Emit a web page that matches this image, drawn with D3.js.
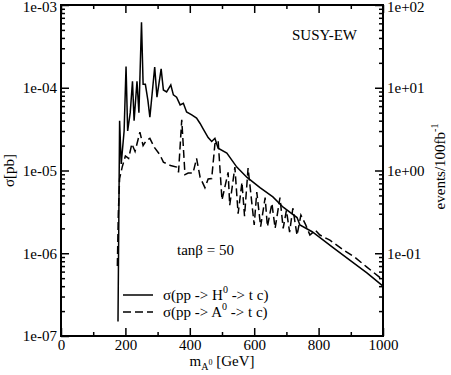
<!DOCTYPE html>
<html lang="en">
<head>
<meta charset="UTF-8">
<script src="https://d3js.org/d3.v7.min.js"></script>
<style>
  body { margin: 0; background: #fff; }
  svg, svg text { font-family: "Liberation Serif", "Times New Roman", Times, serif; }
</style>
</head>
<body>
<script>
// sigma(pp -> H0 -> t c), solid
const massH = [177, 182, 187, 196, 202, 207, 215, 222, 227, 236, 242, 250, 255, 262, 270, 276, 291, 298, 311, 318, 328, 341, 349, 359, 370, 380, 390, 406, 421, 432, 441, 457, 468, 478, 488, 515, 546, 577, 618, 658, 690, 733, 742, 780, 845, 900, 950, 1000];
const sigmaH = [1.5e-7, 4e-5, 1.2e-5, 3e-5, 1.8e-4, 3e-5, 5e-5, 1.2e-4, 4e-5, 1.2e-4, 5e-5, 6.2e-4, 1.1e-4, 1.1e-4, 7e-5, 4.4e-5, 1.78e-4, 7.7e-5, 1.69e-4, 9.4e-5, 8.9e-5, 1.08e-4, 8.2e-5, 7.7e-5, 6.2e-5, 6.5e-5, 5.1e-5, 4.7e-5, 4.3e-5, 3.7e-5, 3.2e-5, 2.5e-5, 2.24e-5, 2.45e-5, 1.86e-5, 1.62e-5, 1.1e-5, 8.3e-6, 6.2e-6, 4.8e-6, 3.6e-6, 2.7e-6, 2.2e-6, 1.82e-6, 1.17e-6, 8.1e-7, 5.8e-7, 4e-7];

// sigma(pp -> A0 -> t c), dashed
const massA = [175, 178, 182, 190, 200, 210, 220, 230, 245, 255, 265, 276, 290, 307, 318, 340, 359, 365, 375, 385, 395, 410, 421, 432, 447, 457, 468, 478, 488, 500, 519, 524, 540, 550, 562, 570, 581, 600, 608, 620, 634, 641, 655, 665, 680, 690, 700, 710, 720, 733, 745, 760, 773, 790, 804, 835, 876, 913, 950, 990, 1000];
const sigmaA = [7e-7, 3e-6, 8e-6, 1.1e-5, 1.5e-5, 1.4e-5, 2.1e-5, 1.7e-5, 2.9e-5, 2e-5, 2.3e-5, 2.45e-5, 1.9e-5, 1.55e-5, 1.26e-5, 1.15e-5, 1.1e-5, 9.5e-6, 4.1e-5, 8.9e-6, 9.3e-6, 9.3e-6, 1.4e-5, 8.3e-6, 6.2e-6, 7.9e-6, 8e-6, 2.1e-5, 2.3e-5, 4.4e-6, 9.5e-6, 3.8e-6, 1.1e-5, 3e-6, 7.2e-6, 2.8e-6, 1.07e-5, 2.2e-6, 5.5e-6, 2.1e-6, 4.7e-6, 2.1e-6, 4e-6, 2e-6, 4.7e-6, 2e-6, 3.3e-6, 1.8e-6, 3.5e-6, 1.65e-6, 2.9e-6, 2.2e-6, 1.66e-6, 1.9e-6, 1.66e-6, 1.44e-6, 1.1e-6, 8.9e-7, 6.8e-7, 5.1e-7, 5.1e-7];

// tick values
const xMajor = [0, 200, 400, 600, 800, 1000];
const xMinor = [100, 300, 500, 700, 900];
const yMajor = [1e-7, 1e-6, 1e-5, 1e-4, 1e-3];
const y2Major = [1e-1, 1e0, 1e1, 1e2];

const W = 451, H = 375;
const pL = 61, pR = 383, pT = 5, pB = 336;
const serif = "'Liberation Serif', 'Times New Roman', Times, serif";

const svg = d3.select("body").append("svg")
    .attr("width", W)
    .attr("height", H)
    .style("font-family", serif);

const x = d3.scaleLinear().domain([0, 1000]).range([pL, pR]);
const y = d3.scaleLog().domain([1e-7, 1e-3]).range([pB, pT]);
// events per 100 fb^-1 = sigma[pb] * 1e5
const y2 = d3.scaleLog().domain([1e-2, 1e2]).range([pB, pT]);

const fmt = v => {
    const e = Math.round(Math.log10(v));
    return "1e" + (e < 0 ? "-" : "+") + String(Math.abs(e)).padStart(2, "0");
};

// minor ticks for log axes (2..9 in each decade)
const logMinor = dom => {
    const out = [];
    const lo = Math.round(Math.log10(dom[0])), hi = Math.round(Math.log10(dom[1]));
    for (let e = lo; e < hi; e++)
        for (let k = 2; k <= 9; k++) out.push(k * Math.pow(10, e));
    return out;
};

function styleAxis(g) {
    g.attr("font-family", null);
    g.select(".domain").remove();
    g.selectAll("line").attr("stroke", "#000").attr("stroke-width", 1.5);
    g.selectAll("text").attr("font-size", 15).attr("fill", "#000")
        .style("font-family", serif);
}

// bottom axis
svg.append("g").attr("transform", `translate(0,${pB})`)
    .call(d3.axisBottom(x).tickValues(xMajor).tickSize(-8).tickPadding(3).tickFormat(d3.format("d")))
    .call(styleAxis);
svg.append("g").attr("transform", `translate(0,${pB})`)
    .call(d3.axisBottom(x).tickValues(xMinor).tickSize(-4).tickFormat(""))
    .call(styleAxis);
// top axis (ticks only)
svg.append("g").attr("transform", `translate(0,${pT})`)
    .call(d3.axisTop(x).tickValues(xMajor).tickSize(-8).tickFormat(""))
    .call(styleAxis);
svg.append("g").attr("transform", `translate(0,${pT})`)
    .call(d3.axisTop(x).tickValues(xMinor).tickSize(-4).tickFormat(""))
    .call(styleAxis);

// left axis
svg.append("g").attr("transform", `translate(${pL},0)`)
    .call(d3.axisLeft(y).tickValues(yMajor).tickSize(-8).tickPadding(4).tickFormat(fmt))
    .call(styleAxis);
svg.append("g").attr("transform", `translate(${pL},0)`)
    .call(d3.axisLeft(y).tickValues(logMinor(y.domain())).tickSize(-4).tickFormat(""))
    .call(styleAxis);

// right axis
svg.append("g").attr("transform", `translate(${pR},0)`)
    .call(d3.axisRight(y2).tickValues(y2Major).tickSize(-8).tickPadding(4).tickFormat(fmt))
    .call(styleAxis);
svg.append("g").attr("transform", `translate(${pR},0)`)
    .call(d3.axisRight(y2).tickValues(logMinor(y2.domain())).tickSize(-4).tickFormat(""))
    .call(styleAxis);

// keep the top labels inside the picture
svg.selectAll("g .tick").filter(d => d === 1e-3 || d === 1e2)
    .select("text").attr("dy", "0.45em");

// curves
const line = d3.line().x(d => x(d[0])).y(d => y(d[1]));

svg.append("path")
    .datum(d3.zip(massH, sigmaH))
    .attr("d", line)
    .attr("fill", "none")
    .attr("stroke", "#000")
    .attr("stroke-width", 1.5);

svg.append("path")
    .datum(d3.zip(massA, sigmaA))
    .attr("d", line)
    .attr("fill", "none")
    .attr("stroke", "#000")
    .attr("stroke-width", 1.5)
    .attr("stroke-dasharray", "8,4");

// frame
svg.append("rect")
    .attr("x", pL).attr("y", pT)
    .attr("width", pR - pL).attr("height", pB - pT)
    .attr("fill", "none")
    .attr("stroke", "#000")
    .attr("stroke-width", 2);

// axis titles
svg.append("text")
    .attr("transform", `translate(14,${(pT + pB) / 2}) rotate(-90)`)
    .attr("text-anchor", "middle")
    .attr("font-size", 15)
    .text("σ[pb]");

const r = svg.append("text")
    .attr("transform", `translate(445,${(pT + pB) / 2 - 4}) rotate(-90)`)
    .attr("text-anchor", "middle")
    .attr("font-size", 15);
r.append("tspan").text("events/100fb");
r.append("tspan").attr("dy", -7).attr("font-size", 10).text("-1");

const xt = svg.append("text")
    .attr("x", (pL + pR) / 2)
    .attr("y", 366)
    .attr("text-anchor", "middle")
    .attr("font-size", 15);
xt.append("tspan").text("m");
xt.append("tspan").attr("dy", 4).attr("font-size", 10).text("A");
xt.append("tspan").attr("dy", -5).attr("font-size", 8).text("0");
xt.append("tspan").attr("dy", 1).text(" [GeV]");

// labels inside plot
svg.append("text")
    .attr("x", 292).attr("y", 40)
    .attr("font-size", 15)
    .text("SUSY-EW");

svg.append("text")
    .attr("x", 177).attr("y", 255)
    .attr("font-size", 15)
    .text("tanβ = 50");

// legend
const legend = [
    { dash: null, label: "H", ly: 295 },
    { dash: "8,4", label: "A", ly: 312 }
];
legend.forEach(d => {
    svg.append("line")
        .attr("x1", 123).attr("x2", 153)
        .attr("y1", d.ly).attr("y2", d.ly)
        .attr("stroke", "#000")
        .attr("stroke-width", 1.5)
        .attr("stroke-dasharray", d.dash);
    const t = svg.append("text")
        .attr("x", 163).attr("y", d.ly + 5)
        .attr("font-size", 15);
    t.append("tspan").text("σ(pp -> " + d.label);
    t.append("tspan").attr("dy", -7).attr("font-size", 10).text("0");
    t.append("tspan").attr("dy", 7).text(" -> t c)");
});
</script>
</body>
</html>
